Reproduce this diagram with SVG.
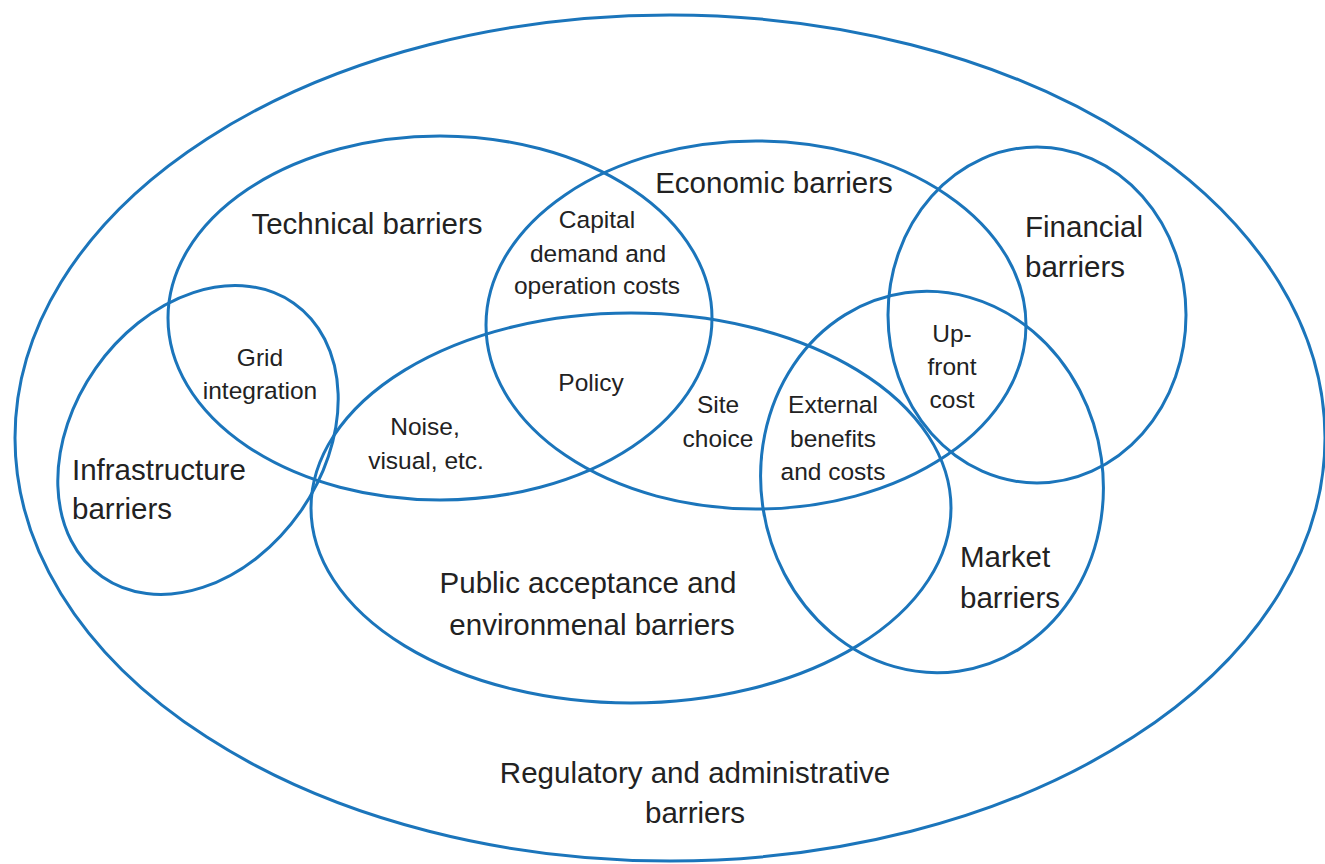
<svg xmlns="http://www.w3.org/2000/svg" width="1325" height="864" viewBox="0 0 1325 864">
<style>
.ring{fill:none;stroke:#1b75bb;stroke-width:3}
.big{font-family:"Liberation Sans",Arial,sans-serif;font-size:29.5px;fill:#222}
.small{font-family:"Liberation Sans",Arial,sans-serif;font-size:24.5px;fill:#222}
.c{text-anchor:middle}
</style>
<rect width="1325" height="864" fill="#ffffff"/>
<g id="regulatory">
<ellipse class="ring" cx="670" cy="438" rx="655" ry="423"/>
<text class="big c" x="695" y="783">Regulatory and administrative</text>
<text class="big c" x="695" y="823">barriers</text>
</g>
<g id="technical">
<ellipse class="ring" cx="440" cy="318" rx="272" ry="182"/>
<text class="big c" x="367" y="234">Technical barriers</text>
</g>
<g id="economic">
<ellipse class="ring" cx="756" cy="325" rx="270" ry="184"/>
<text class="big c" x="774" y="193">Economic barriers</text>
</g>
<g id="financial">
<ellipse class="ring" cx="1037" cy="315" rx="149" ry="168"/>
<text class="big" x="1025" y="237">Financial</text>
<text class="big" x="1025" y="277">barriers</text>
</g>
<g id="infrastructure">
<ellipse class="ring" cx="198" cy="440" rx="167" ry="125" transform="rotate(-55 198 440)"/>
<text class="big" x="72" y="480">Infrastructure</text>
<text class="big" x="72" y="519">barriers</text>
</g>
<g id="public">
<ellipse class="ring" cx="631" cy="508" rx="320" ry="195"/>
<text class="big c" x="588" y="593">Public acceptance and</text>
<text class="big c" x="592" y="635">environmenal barriers</text>
</g>
<g id="market">
<ellipse class="ring" cx="932" cy="482" rx="171" ry="191" transform="rotate(-8 932 482)"/>
<text class="big" x="960" y="567">Market</text>
<text class="big" x="960" y="608">barriers</text>
</g>
<g id="overlap-labels">
<text class="small c" x="260" y="366">Grid</text>
<text class="small c" x="260" y="399">integration</text>
<text class="small c" x="597" y="228">Capital</text>
<text class="small c" x="598" y="262">demand and</text>
<text class="small c" x="597" y="294">operation costs</text>
<text class="small c" x="591" y="391">Policy</text>
<text class="small c" x="425" y="435">Noise,</text>
<text class="small c" x="426" y="469">visual, etc.</text>
<text class="small c" x="718" y="413">Site</text>
<text class="small c" x="718" y="447">choice</text>
<text class="small c" x="833" y="413">External</text>
<text class="small c" x="833" y="447">benefits</text>
<text class="small c" x="833" y="480">and costs</text>
<text class="small c" x="952" y="342">Up-</text>
<text class="small c" x="952" y="375">front</text>
<text class="small c" x="952" y="408">cost</text>
</g>
<g id="connectors"/>
</svg>
